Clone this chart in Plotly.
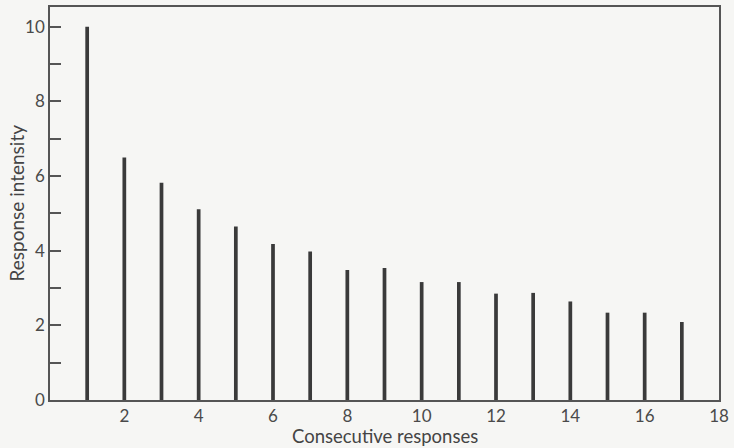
import plotly.graph_objects as go

responses = list(range(1, 18))
intensity = [10.0, 6.5, 5.82, 5.11, 4.65, 4.18, 3.98, 3.48, 3.54, 3.16, 3.16, 2.85, 2.87, 2.64, 2.34, 2.34, 2.09]
x_tick_vals = [2, 4, 6, 8, 10, 12, 14, 16, 18]
y_tick_vals = list(range(0, 11))
y_tick_text = [str(v) if v % 2 == 0 else "" for v in y_tick_vals]

ink = "#3a3a3a"
font = "Lato, 'Open Sans', sans-serif"

fig = go.Figure(go.Bar(x=responses, y=intensity, width=0.1,
                       marker=dict(color=ink, line=dict(width=0))))

fig.update_layout(
    width=734, height=448,
    margin=dict(l=50, r=11, t=5, b=48),
    paper_bgcolor="#f6f6f4", plot_bgcolor="#f6f6f4",
    showlegend=False,
    font=dict(family=font, size=17, color="#444"),
)
fig.update_xaxes(range=[0, 18], tickvals=x_tick_vals, ticks="", showgrid=False,
                 zeroline=False, showline=True, linecolor="#555", linewidth=1.5,
                 mirror=True, tickfont=dict(size=17, color="#4a4a4a"))
fig.update_yaxes(range=[0, 10.53], tickvals=y_tick_vals, ticktext=y_tick_text,
                 ticks="inside", ticklen=11, tickwidth=1.5, tickcolor="#555",
                 showgrid=False, zeroline=False, showline=True, linecolor="#555",
                 linewidth=1.5, mirror=True, tickfont=dict(size=17, color="#4a4a4a"))

fig.add_annotation(text="Consecutive responses", xref="paper", yref="paper",
                   x=0.5, y=0, yshift=-36, showarrow=False, yanchor="middle",
                   borderpad=0, font=dict(size=18.5, color="#444", family=font))
fig.add_annotation(text="Response intensity", xref="paper", yref="paper",
                   x=0, y=0.5, xshift=-34, showarrow=False, textangle=-90,
                   xanchor="center", yanchor="middle", borderpad=0,
                   font=dict(size=19, color="#444", family=font))

fig.write_html("out.html", config={"displayModeBar": False},
               post_script="document.body.style.margin='0';")
